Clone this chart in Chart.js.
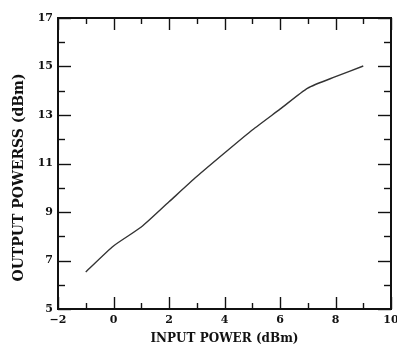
<!DOCTYPE html>
<html>
<head>
<meta charset="utf-8">
<script src="https://cdn.jsdelivr.net/npm/chart.js@4/dist/chart.umd.min.js"></script>
<style>
  html, body { margin: 0; padding: 0; background: #fff; }
  #wrap { width: 397px; height: 346px; }
</style>
</head>
<body>
<div id="wrap"><canvas id="c" width="397" height="346"></canvas></div>
<script>
// ---- data ----
const inputPower  = [-1, 0, 1, 2, 3, 4, 5, 6, 7, 8, 9];
const outputPower = [6.53, 7.6, 8.38, 9.42, 10.46, 11.43, 12.38, 13.24, 14.11, 14.58, 15.02];
const xTickLabels = [-2, 0, 2, 4, 6, 8, 10];
const yTickLabels = [5, 7, 9, 11, 13, 15, 17];
const xTitle = 'INPUT POWER (dBm)';
const yTitle = 'OUTPUT POWERSS (dBm)';

const FONT = '"DejaVu Serif", serif';

const frameAndTicks = {
  id: 'frameAndTicks',
  afterDatasetsDraw(chart) {
    const { ctx, chartArea: a, scales: { x, y } } = chart;
    ctx.save();
    ctx.strokeStyle = '#111';
    ctx.lineWidth = 1.4;
    const seg = (x1, y1, x2, y2) => { ctx.beginPath(); ctx.moveTo(x1, y1); ctx.lineTo(x2, y2); ctx.stroke(); };
    x.ticks.forEach(t => {
      const px = Math.round(x.getPixelForValue(t.value)) + 0.5;
      const major = xTickLabels.includes(t.value);
      const len = major ? 12 : 6;
      seg(px, a.bottom, px, a.bottom - len);
      seg(px, a.top, px, a.top + len);
    });
    y.ticks.forEach(t => {
      const py = Math.round(y.getPixelForValue(t.value)) + 0.5;
      const major = yTickLabels.includes(t.value);
      const len = major ? 13 : 7;
      seg(a.left, py, a.left + len, py);
      seg(a.right, py, a.right - len, py);
    });
    ctx.lineWidth = 2;
    ctx.strokeRect(a.left, a.top, a.right - a.left, a.bottom - a.top);
    ctx.restore();
  },
  afterDraw(chart) {
    // vertical axis title (kept as real text)
    const { ctx, chartArea: a } = chart;
    ctx.save();
    ctx.fillStyle = '#111';
    ctx.font = 'bold 14px ' + FONT;
    ctx.textAlign = 'center';
    ctx.textBaseline = 'middle';
    ctx.translate(19, (a.top + a.bottom) / 2 + 14);
    ctx.rotate(-Math.PI / 2);
    ctx.fillText(yTitle, 0, 0);
    ctx.restore();
  }
};

new Chart(document.getElementById('c'), {
  type: 'line',
  data: {
    datasets: [{
      data: inputPower.map((v, i) => ({ x: v, y: outputPower[i] })),
      borderColor: '#333',
      borderWidth: 1.4,
      pointRadius: 0,
      tension: 0.2,
      fill: false
    }]
  },
  options: {
    responsive: false,
    animation: false,
    devicePixelRatio: 1,
    layout: { padding: { top: 18, right: 6, left: 0, bottom: 0 } },
    plugins: { legend: { display: false }, tooltip: { enabled: false } },
    scales: {
      x: {
        type: 'linear',
        min: -2, max: 10,
        grid: { display: false, drawTicks: false },
        border: { display: false },
        afterFit(s) { s.height = 37; s.paddingRight = 0; s.paddingLeft = 0; },
        ticks: {
          stepSize: 1,
          autoSkip: false,
          maxRotation: 0,
          padding: 5,
          color: '#111',
          font: { family: FONT, size: 11, weight: 'bold' },
          callback: v => xTickLabels.includes(v) ? String(v).replace('-', '\u2212') : ''
        },
        title: {
          display: true,
          text: xTitle,
          color: '#111',
          font: { family: FONT, size: 12, weight: 'bold' },
          padding: { top: 2, bottom: 0 }
        }
      },
      y: {
        type: 'linear',
        min: 5, max: 17,
        grid: { display: false, drawTicks: false },
        border: { display: false },
        afterFit(s) { s.width = 58; s.paddingTop = 0; s.paddingBottom = 0; },
        ticks: {
          stepSize: 1,
          autoSkip: false,
          padding: 5,
          color: '#111',
          font: { family: FONT, size: 11, weight: 'bold' },
          callback: v => yTickLabels.includes(v) ? String(v) : ''
        },
        title: { display: false }
      }
    }
  },
  plugins: [frameAndTicks]
});
</script>
</body>
</html>
